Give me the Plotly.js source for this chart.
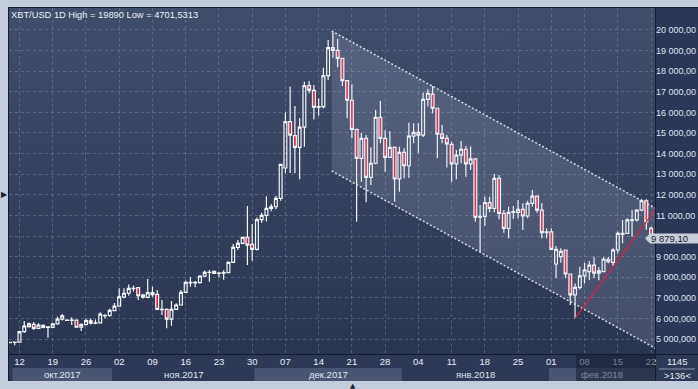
<!DOCTYPE html>
<html><head><meta charset="utf-8">
<script src="https://cdn.plot.ly/plotly-3.0.1.min.js"></script>
<style>
html,body{margin:0;padding:0;background:#c3cddb;overflow:hidden;}
#wrap{position:relative;width:698px;height:389px;}
.bg{position:absolute;}
#chart{position:absolute;left:0;top:0;width:698px;height:389px;}
</style></head><body>
<div id="wrap">
<div class="bg" style="left:8px;top:7px;width:690px;height:374px;background:#151c2b"></div>
<div class="bg" style="left:9px;top:8px;width:646px;height:346px;background:linear-gradient(#414e69,#2a3550)"></div>
<div class="bg" style="left:656px;top:8px;width:42px;height:346px;background:#2b3754"></div>
<div class="bg" style="left:9px;top:355px;width:646px;height:26px;background:#2e3a55"></div>
<div class="bg" style="left:656px;top:355px;width:42px;height:26px;background:#2e3a55"></div>
<div id="chart"></div>
</div>
<script>
// ---- data ----
const dates = [
'2017-10-10','2017-10-11','2017-10-12','2017-10-13','2017-10-14','2017-10-15','2017-10-16','2017-10-17','2017-10-18','2017-10-19','2017-10-20','2017-10-21','2017-10-22','2017-10-23','2017-10-24','2017-10-25','2017-10-26','2017-10-27','2017-10-28','2017-10-29','2017-10-30','2017-10-31',
'2017-11-01','2017-11-02','2017-11-03','2017-11-04','2017-11-05','2017-11-06','2017-11-07','2017-11-08','2017-11-09','2017-11-10','2017-11-11','2017-11-12','2017-11-13','2017-11-14','2017-11-15','2017-11-16','2017-11-17','2017-11-18','2017-11-19','2017-11-20','2017-11-21','2017-11-22','2017-11-23','2017-11-24','2017-11-25','2017-11-26','2017-11-27','2017-11-28','2017-11-29','2017-11-30',
'2017-12-01','2017-12-02','2017-12-03','2017-12-04','2017-12-05','2017-12-06','2017-12-07','2017-12-08','2017-12-09','2017-12-10','2017-12-11','2017-12-12','2017-12-13','2017-12-14','2017-12-15','2017-12-16','2017-12-17','2017-12-18','2017-12-19','2017-12-20','2017-12-21','2017-12-22','2017-12-23','2017-12-24','2017-12-25','2017-12-26','2017-12-27','2017-12-28','2017-12-29','2017-12-30','2017-12-31',
'2018-01-01','2018-01-02','2018-01-03','2018-01-04','2018-01-05','2018-01-06','2018-01-07','2018-01-08','2018-01-09','2018-01-10','2018-01-11','2018-01-12','2018-01-13','2018-01-14','2018-01-15','2018-01-16','2018-01-17','2018-01-18','2018-01-19','2018-01-20','2018-01-21','2018-01-22','2018-01-23','2018-01-24','2018-01-25','2018-01-26','2018-01-27','2018-01-28','2018-01-29','2018-01-30','2018-01-31',
'2018-02-01','2018-02-02','2018-02-03','2018-02-04','2018-02-05','2018-02-06','2018-02-07','2018-02-08','2018-02-09','2018-02-10','2018-02-11','2018-02-12','2018-02-13','2018-02-14','2018-02-15','2018-02-16','2018-02-17','2018-02-18','2018-02-19','2018-02-20','2018-02-21','2018-02-22'];

const opens = [
4820,4840,4850,5360,5600,5710,5520,5660,5560,5560,5730,5960,5920,5900,5920,5570,5700,5880,5770,5780,6130,6140,
6380,6600,7030,7220,7460,7490,7130,7020,7250,7170,6440,6440,5960,6440,6650,7266,7750,7720,7733,8058,8240,8286,8190,8200,8220,8720,9450,9640,9930,9590,
9350,10790,11000,11340,11420,11830,13300,15550,14870,14300,15280,17300,17070,16250,16280,17780,19140,19010,18620,17540,16590,15180,13770,14740,12850,13530,15760,14740,13820,14300,12770,
14060,13410,14850,15030,14900,16630,16890,16200,14940,14740,14450,13500,13930,14210,13500,13740,10910,10950,11615,11340,12800,11100,10370,11150,11150,11290,10970,11585,11940,11260,10160,
10200,8640,9000,9320,8155,7140,7510,8060,8270,8590,8200,8270,8870,8720,9320,10080,10130,10780,10780,11260,11710,10370];

const highs = [
4860,4880,5400,5870,5800,5830,5760,5700,5620,5780,6080,6210,5960,6050,5950,5760,6000,6000,5950,6300,6210,6470,
6750,7460,7460,7650,7600,7500,7200,7910,7540,7380,6890,6480,6845,6730,7380,7830,7995,7815,8100,8320,8350,8330,8270,8335,8760,9611,9805,9960,11450,10580,
10900,11130,11930,11550,11940,13500,16000,17250,16310,15710,17490,17520,17330,16680,18170,19510,19890,19560,18650,17540,17360,15200,15015,14900,14305,16115,16550,15130,15080,14350,14335,
14255,15500,15470,15470,16960,17120,17280,16200,15390,14900,14580,14170,14610,14370,14340,13740,11500,11905,11900,13010,12960,11260,11420,11455,11750,11590,11710,12230,11960,11590,10370,
10370,9515,9400,9350,8155,7700,8510,8700,8786,8995,8500,8980,8995,9400,10220,10780,10860,11260,11300,11780,11780,10450];

const lows = [
4790,4701.5313,4830,5300,5560,5440,5480,5520,5060,5540,5700,5900,5880,5680,5550,5390,5670,5700,5720,5760,5990,6080,
6350,6580,6975,7100,7300,6890,6960,6980,7050,6420,6165,5520,5646,6420,6630,7220,7540,7510,7700,8000,7780,8150,8000,7880,8200,8700,9320,9600,8590,8800,
9300,10645,10700,11200,11295,11714,13040,13060,13040,12750,14330,16930,15660,15840,16200,17570,18650,18190,17280,15710,14740,10690,12635,11635,12475,13480,14500,13120,13800,11665,12150,
12800,12830,14500,14040,14800,16280,15960,13770,14500,13330,12635,12750,13530,12880,13200,10690,9240,10500,11150,11150,10810,10160,9890,10825,10860,10290,10860,11420,11130,9890,9890,
9320,7950,8700,7945,6650,6000,7400,7700,7864,7946,7850,8240,8675,8560,9150,9645,10100,9965,10700,11200,10300,9800];

const closes = [
4840,4850,5360,5630,5730,5520,5680,5560,5590,5730,5960,6120,5900,5920,5570,5700,5890,5770,5780,6210,6140,6390,
6600,7050,7220,7460,7440,7100,7030,7250,7150,6440,6420,5960,6440,6650,7260,7750,7720,7750,8058,8237,8230,8190,8200,8220,8720,9450,9640,9930,9560,9350,
10790,11000,11340,11420,11830,13480,15550,14900,14300,15280,17300,17080,16250,16280,17780,19140,19010,18620,17540,16590,15180,13770,14740,12850,13530,15760,14740,13820,14300,12770,14060,
13410,14850,15030,14900,16630,16930,16200,14940,14740,14470,13500,13930,14210,13500,13740,10910,10950,11620,11345,12800,11100,10370,11150,11190,11290,10970,11585,11940,11260,10160,10200,
9355,9350,9250,8155,7140,7510,8060,8350,8590,8200,8310,8870,8750,9320,10130,10130,10780,10760,11260,11710,10690,9879.1];

// descending price channel (two parallel edges)
const channelX = ['2017-12-16 18:00', '2018-02-23 00:00'];
const channelUpper = [19950, 11340];
const channelLower = [13155, 4540];

// red trend line from the February low
const trendX = ['2018-02-06 00:00', '2018-02-23 00:00'];
const trendY = [6000, 11310];

// price axis ticks (visible part of each label; 10 000 is hidden under the price tag)
const priceTicks = [5000,6000,7000,8000,9000,10000,11000,12000,13000,14000,15000,16000,17000,18000,19000,20000];
const priceTickText = ['5 000,000','6 000,000','7 000,000','8 000,000','9 000,000','','11 000,00','12 000,00','13 000,00','14 000,00','15 000,00','16 000,00','17 000,00','18 000,00','19 000,00','20 000,00'];

// month bands on the time strip
const monthLabels = ['окт.2017','ноя.2017','дек.2017','янв.2018','фев.2018'];
const monthEdges = ['2017-10-10 13:00','2017-10-31 12:00','2017-11-30 12:00','2017-12-31 12:00','2018-01-31 12:00','2018-02-22 20:00'];
const monthShaded = [true,false,true,false,true];

const titleText = 'XBT/USD 1D High = 19890 Low = 4701,5313';
const lastPriceText = '9 879,10';
const barCountText = '1145';
const visibleText = '&gt;136&lt;';
const dimStart = '2018-02-06 05:00';

// ---- layout helpers (pixel -> paper) ----
const PL = 9, PW = 646, PT = 8, PH = 346;
const px = v => (v - PL) / PW;
const py = v => (PT + PH - v) / PH;
const FONT = 'Liberation Sans, Arial, sans-serif';

const traces = [
  {type:'scatter', mode:'lines', x:[channelX[0], channelX[1], channelX[1], channelX[0]],
   y:[channelUpper[0], channelUpper[1], channelLower[1], channelLower[0]],
   fill:'toself', fillcolor:'rgba(200,210,230,0.17)', line:{width:0}, hoverinfo:'skip', showlegend:false},
  {type:'scatter', mode:'lines', x:channelX, y:channelUpper,
   line:{color:'rgba(225,228,236,0.9)', width:1.5, dash:'2px,2px'}, hoverinfo:'skip', showlegend:false},
  {type:'scatter', mode:'lines', x:channelX, y:channelLower,
   line:{color:'rgba(225,228,236,0.9)', width:1.5, dash:'2px,2px'}, hoverinfo:'skip', showlegend:false},
  {type:'candlestick', x:dates, open:opens, high:highs, low:lows, close:closes,
   increasing:{line:{color:'#f5f6f8', width:1.2}, fillcolor:'rgba(0,0,0,0)'},
   decreasing:{line:{color:'#f5f6f8', width:1.2}, fillcolor:'#e0203c'},
   whiskerwidth:0, showlegend:false, hoverinfo:'skip'},
  {type:'scatter', mode:'lines', x:trendX, y:trendY,
   line:{color:'#e0203c', width:1.2}, hoverinfo:'skip', showlegend:false}
];

const shapes = [];
const annotations = [];
for (let i = 0; i < monthLabels.length; i++) {
  if (monthShaded[i]) {
    shapes.push({type:'rect', xref:'x', yref:'paper', x0:monthEdges[i], x1:monthEdges[i+1],
      y0:py(381), y1:py(368), fillcolor:'#4a5671', line:{width:0}, layer:'below'});
  }
  const mid = new Date((Date.parse(monthEdges[i].replace(' ','T')+'Z') + Date.parse(monthEdges[i+1].replace(' ','T')+'Z'))/2);
  annotations.push({xref:'x', yref:'paper', x:mid.toISOString().slice(0,19).replace('T',' '), y:py(374),
    text:monthLabels[i], showarrow:false, xanchor:'center', yanchor:'middle',
    font:{family:FONT, size:9.5, color: i===4 ? '#7f889b' : '#dfe5ee'}});
}
// dimmed part of the time strip
shapes.push({type:'rect', xref:'x', yref:'paper', x0:dimStart, x1:'2018-02-22 20:00', y0:py(381), y1:py(355),
  fillcolor:'rgba(22,30,48,0.55)', line:{width:0}, layer:'above'});
// separator in bottom-right box
shapes.push({type:'line', xref:'paper', yref:'paper', x0:px(659), x1:px(695), y0:py(369), y1:py(369),
  line:{color:'#8a95a8', width:1}, layer:'above'});
// last-price tag
shapes.push({type:'path', xref:'paper', yref:'y', xsizemode:'pixel', ysizemode:'pixel', xanchor:1, yanchor:closes[closes.length-1],
  path:'M -10 0 L -5 5 L 45 5 L 45 -5 L -5 -5 Z', fillcolor:'#c7ced8', line:{width:0}, layer:'above'});

annotations.push({xref:'paper', yref:'y', x:px(649), y:closes[closes.length-1], text:lastPriceText, showarrow:false,
  xanchor:'left', yanchor:'middle', font:{family:FONT, size:9.5, color:'#1c2332'}});
annotations.push({xref:'paper', yref:'paper', x:px(9), y:py(15), text:titleText, showarrow:false,
  xanchor:'left', yanchor:'middle', font:{family:FONT, size:9.3, color:'#e9edf3'}});
annotations.push({xref:'paper', yref:'paper', x:px(677), y:py(361), text:barCountText, showarrow:false,
  xanchor:'center', yanchor:'middle', font:{family:FONT, size:9.5, color:'#e2e7ef'}});
annotations.push({xref:'paper', yref:'paper', x:px(677), y:py(376), text:visibleText, showarrow:false,
  xanchor:'center', yanchor:'middle', font:{family:FONT, size:9.5, color:'#e2e7ef'}});
// small scroll markers on the outer frame
annotations.push({xref:'paper', yref:'paper', x:px(4), y:py(194), text:'▶', showarrow:false,
  xanchor:'center', yanchor:'middle', font:{family:'DejaVu Sans', size:8, color:'#1b2232'}});
annotations.push({xref:'paper', yref:'paper', x:px(353), y:py(385.5), text:'▲', showarrow:false,
  xanchor:'center', yanchor:'middle', font:{family:'DejaVu Sans', size:7, color:'#1b2232'}});

const layout = {
  width:698, height:389,
  margin:{l:PL, r:698-PL-PW, t:PT, b:389-PT-PH, pad:0},
  paper_bgcolor:'rgba(0,0,0,0)', plot_bgcolor:'rgba(0,0,0,0)',
  showlegend:false,
  xaxis:{type:'date', range:['2017-10-09 19:00','2018-02-22 20:00'], rangeslider:{visible:false},
    tick0:'2017-10-12', dtick:7*24*3600*1000, tickformat:'%d', ticks:'', showline:false, zeroline:false,
    showgrid:true, gridcolor:'rgba(120,136,165,0.5)', griddash:'3px,3px', gridwidth:1,
    tickfont:{family:FONT, size:9.5, color:'#e6ebf2'}, fixedrange:true},
  yaxis:{side:'right', range:[4272, 21067], tickmode:'array', tickvals:priceTicks, ticktext:priceTickText,
    ticks:'', showline:false, zeroline:false, showgrid:true, gridcolor:'rgba(120,136,165,0.5)', griddash:'3px,3px',
    gridwidth:1, tickfont:{family:FONT, size:9, color:'#dde4ef'}, fixedrange:true},
  shapes:shapes, annotations:annotations, boxgap:0.15
};

Plotly.newPlot('chart', traces, layout, {staticPlot:true, displayModeBar:false});
</script>
</body></html>
